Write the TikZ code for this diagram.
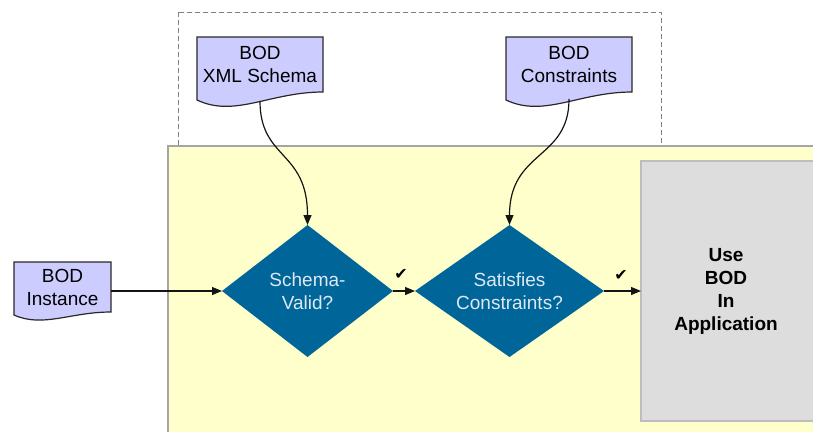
\documentclass[tikz,border=0pt]{standalone}
\usepackage{fontspec}
\setmainfont{Liberation Sans}
\newfontfamily\checkfont{DejaVu Sans}
\usetikzlibrary{shapes.geometric,arrows.meta,calc,backgrounds}

\definecolor{docfill}{RGB}{204,204,255}
\definecolor{docedge}{RGB}{40,40,40}
\definecolor{panel}{RGB}{255,255,204}
\definecolor{paneledge}{RGB}{165,165,165}
\definecolor{groupedge}{RGB}{130,130,130}
\definecolor{decision}{RGB}{0,102,153}
\definecolor{decisiontext}{RGB}{222,232,242}
\definecolor{appfill}{RGB}{221,221,221}
\definecolor{appedge}{RGB}{190,190,190}
\definecolor{linecol}{RGB}{20,20,20}

% document outline with a wavy lower edge:
% #1 node, #2 width, #3 drop of the left corner, #4 depth of the wave
\newcommand\docoutline[4]{%
  \path[fill=docfill, draw=docedge, line width=1.2pt]
    (#1.north west) -- (#1.north east) -- (#1.south east)
    .. controls ($(#1.south east)+(-0.42*#2,0)$)
           and ($(#1.south west)+(0.30*#2,#4)$)
    .. ($(#1.south west)+(0,#3)$) -- cycle;}

\begin{document}
\begin{tikzpicture}[x=1pt, y=-1pt,
  font=\fontsize{19}{23}\selectfont,
  doc/.style={rectangle, inner sep=0pt, outer sep=0pt, align=center, text=black},
  decisionbox/.style={diamond, aspect=1.43, fill=decision, text=decisiontext,
    inner sep=0pt, outer sep=0pt, align=center},
  appbox/.style={rectangle, fill=appfill, draw=appedge, line width=1.5pt,
    inner sep=0pt, outer sep=0pt},
  flow/.style={draw=linecol, line width=1.2pt, -{Triangle[length=10pt,width=8pt]}},
  checkmark/.style={font=\checkfont\fontsize{16}{16}\selectfont, text=black, inner sep=0pt}]

\useasboundingbox (0,0) rectangle (813,431);

% grouping frame and application panel
\begin{scope}[on background layer]
  \draw[groupedge, line width=1pt, dash pattern=on 5pt off 3pt] (178,12) rectangle (661,180);
  \fill[panel] (168,146) rectangle (840,450);
  \draw[paneledge, line width=2pt] (168,450) -- (168,146) -- (840,146);
\end{scope}

% documents
\node[doc, minimum width=126pt, minimum height=55pt] (schema) at (260,64.5) {BOD\\XML Schema};
\node[doc, minimum width=126pt, minimum height=55pt] (constr) at (569,64.5) {BOD\\Constraints};
\node[doc, minimum width=97pt, minimum height=50pt] (inst) at (62.5,287) {BOD\\Instance};

% decisions
\node[decisionbox, minimum width=171pt, minimum height=132pt] (valid) at (307.5,291) {Schema-\\Valid?};
\node[decisionbox, minimum width=189pt, minimum height=132pt] (satisfy) at (509.5,291) {Satisfies\\Constraints?};

% application step
\node[appbox, minimum width=190pt, minimum height=260pt] (appbox) at (736,291) {};
\node[font=\bfseries\fontsize{19}{23}\selectfont, align=center] (app) at (726,291) {Use\\BOD\\In\\Application};

% flow
\draw[flow] (inst.east |- valid.west) -- (valid.west);
\draw[flow] (valid.east) -- (satisfy.west);
\draw[flow] (satisfy.east) -- (appbox.west);
\draw[flow] ($(schema.south)+(0,9)$) .. controls ($(schema.south)+(0,68)$) and ($(valid.north)+(0,-75)$) .. (valid.north);
\draw[flow] ($(constr.south)+(0,7)$) .. controls ($(constr.south)+(0,68)$) and ($(satisfy.north)+(0,-75)$) .. (satisfy.north);

\node[checkmark] (ok1) at (401,274) {✔};
\node[checkmark] (ok2) at (621,275) {✔};

\begin{scope}[on background layer]
  \docoutline{schema}{126}{8}{26}
  \docoutline{constr}{126}{8}{26}
  \docoutline{inst}{97}{3}{16}
\end{scope}
\end{tikzpicture}
\end{document}
